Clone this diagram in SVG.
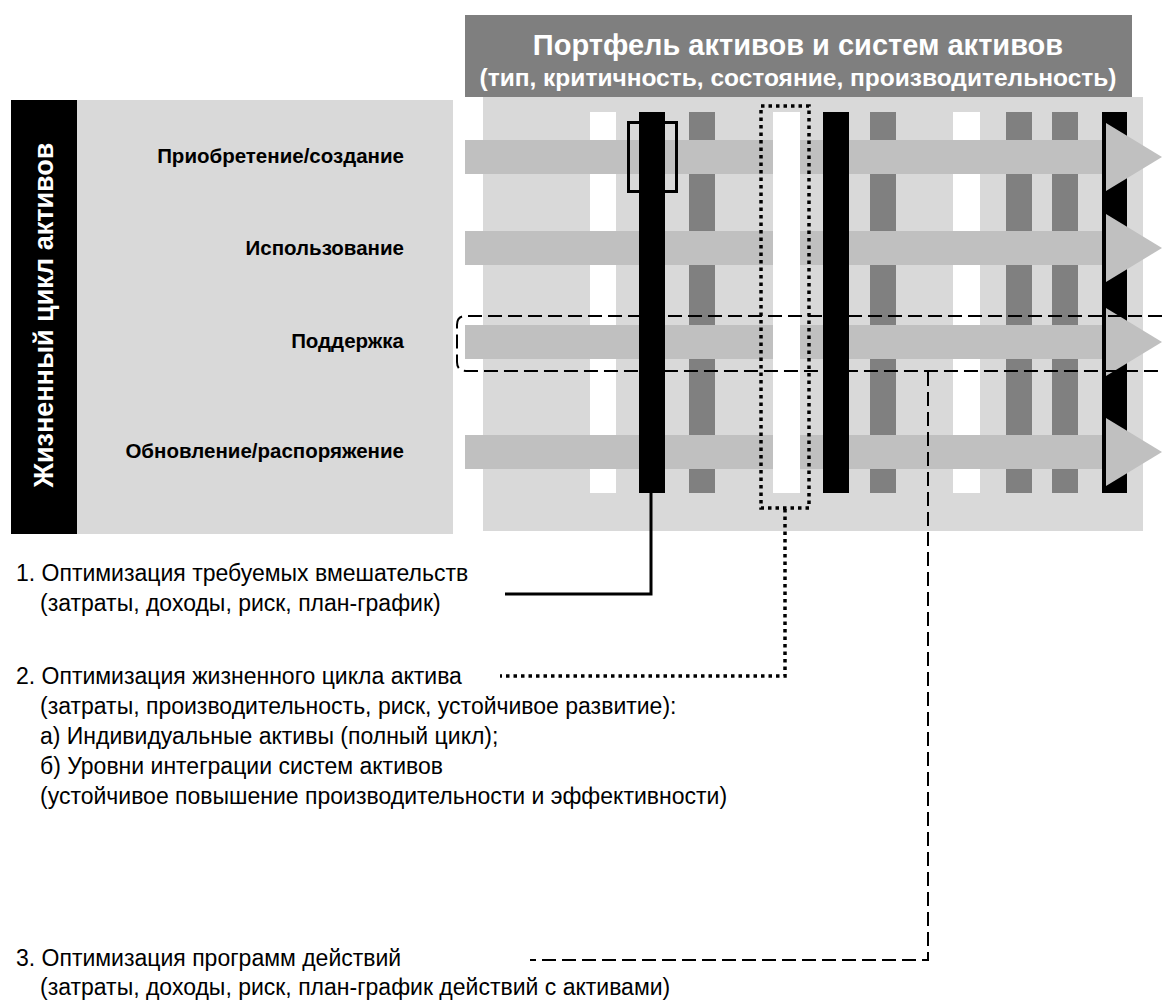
<svg xmlns="http://www.w3.org/2000/svg" width="1162" height="1000" viewBox="0 0 1162 1000">
<style>
.bold{font-family:"Liberation Sans",Arial,sans-serif;font-weight:bold}
.reg{font-family:"Liberation Sans",Arial,sans-serif;font-size:23px;fill:#000}
.lbl{font-size:20.5px;fill:#000;text-anchor:end}
.panel{fill:#d9d9d9}
.band{fill:#c0c0c0}
.wc{fill:#ffffff}
.gc{fill:#808080}
.bc{fill:#000000}
</style>
<defs>
<polygon id="head" points="0,-34 56,0 0,34"/>
</defs>
<rect width="1162" height="1000" fill="#ffffff"/>

<g id="portfolio">
<rect class="panel" x="483" y="97" width="660" height="434"/>
<rect x="465" y="15" width="667" height="82" fill="#7f7f7f"/>
<text class="bold" x="798" y="55" font-size="29" fill="#ffffff" text-anchor="middle">Портфель активов и систем активов</text>
<text class="bold" x="798" y="86" font-size="24.5" fill="#ffffff" text-anchor="middle">(тип, критичность, состояние, производительность)</text>
</g>

<g id="lifecycle">
<rect x="11" y="100" width="66" height="434" fill="#000000"/>
<rect class="panel" x="77" y="100" width="376" height="434"/>
<text class="bold" transform="translate(53,315) rotate(-90)" font-size="27" fill="#ffffff" text-anchor="middle">Жизненный цикл активов</text>
</g>

<g id="stages" class="bold">
<text class="lbl" x="404" y="163">Приобретение/создание</text>
<text class="lbl" x="404" y="255">Использование</text>
<text class="lbl" x="404" y="348">Поддержка</text>
<text class="lbl" x="404" y="458">Обновление/распоряжение</text>
</g>

<g id="columns-under">
<rect class="wc" x="590" y="112" width="26" height="381"/>
<rect class="gc" x="689" y="112" width="26" height="381"/>
<rect class="gc" x="870" y="112" width="26" height="381"/>
<rect class="wc" x="953" y="112" width="27" height="381"/>
<rect class="gc" x="1006" y="112" width="26" height="381"/>
<rect class="gc" x="1052" y="112" width="26" height="381"/>
</g>

<g id="bands">
<rect class="band" x="465" y="140" width="641" height="34"/>
<rect class="band" x="465" y="231" width="641" height="34"/>
<rect class="band" x="465" y="325" width="641" height="34"/>
<rect class="band" x="465" y="435" width="641" height="34"/>
</g>

<g id="columns-over">
<rect class="bc" x="639" y="112" width="26" height="381"/>
<rect class="wc" x="773" y="112" width="27" height="381"/>
<rect class="bc" x="823" y="112" width="26" height="381"/>
<rect class="bc" x="1102" y="112" width="25" height="381"/>
</g>

<g id="heads" fill="#c0c0c0">
<use href="#head" x="1106" y="157"/>
<use href="#head" x="1106" y="248"/>
<use href="#head" x="1106" y="342"/>
<use href="#head" x="1106" y="452"/>
</g>

<g id="highlights" fill="none" stroke="#000">
<rect x="628.5" y="122.5" width="48" height="69" stroke-width="3"/>
<rect x="761" y="106" width="48" height="402" stroke-width="3.5" stroke-dasharray="3.5 4"/>
<path d="M1162,316 H466 Q457,316 457,325 V362 Q457,371 466,371 H1162" stroke-width="2" stroke-dasharray="14 6"/>
</g>

<g id="connectors" fill="none" stroke="#000">
<path d="M651,493 V594 H505" stroke-width="3"/>
<path d="M785,509 V676 H500" stroke-width="3.5" stroke-dasharray="3.5 4"/>
<path d="M928,372 V960 H530" stroke-width="2" stroke-dasharray="14 6"/>
</g>

<g id="notes" class="reg">
<text x="16" y="581">1. Оптимизация требуемых вмешательств</text>
<text x="40" y="611">(затраты, доходы, риск, план-график)</text>
<text x="16" y="684">2. Оптимизация жизненного цикла актива</text>
<text x="40" y="714">(затраты, производительность, риск, устойчивое развитие):</text>
<text x="40" y="744">а) Индивидуальные активы (полный цикл);</text>
<text x="40" y="774">б) Уровни интеграции систем активов</text>
<text x="40" y="804">(устойчивое повышение производительности и эффективности)</text>
<text x="16" y="966">3. Оптимизация программ действий</text>
<text x="40" y="995">(затраты, доходы, риск, план-график действий с активами)</text>
</g>
</svg>
